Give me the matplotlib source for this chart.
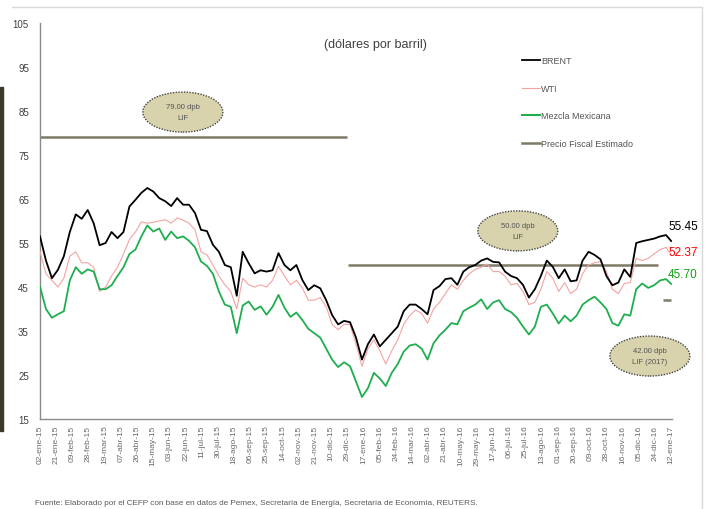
import matplotlib
matplotlib.use('Agg')
import matplotlib.pyplot as plt
import matplotlib.dates as mdates
from matplotlib.patches import Ellipse, Rectangle
from matplotlib.lines import Line2D
from matplotlib.ticker import FuncFormatter
import pandas as pd

plt.rcParams['font.family'] = ['Liberation Sans Narrow', 'Liberation Sans', 'DejaVu Sans']

# weekly readings (Friday) plus the last day shown
dates = pd.date_range('2015-01-02', '2017-01-06', freq='7D').append(pd.DatetimeIndex(['2017-01-12']))

brent = [56.5, 51.0, 47.0, 48.9, 52.0, 57.5, 61.5, 60.5, 62.5, 59.5,
         54.5, 55.0, 57.5, 56.1, 57.5, 63.3, 64.8, 66.4, 67.5, 66.7,
         65.2, 64.5, 63.4, 65.2, 63.7, 63.7, 61.8, 58.0, 57.7, 54.6,
         53.0, 50.0, 49.5, 43.0, 53.0, 50.4, 48.1, 48.8, 48.5, 48.8,
         52.7, 50.0, 48.8, 50.0, 46.6, 44.3, 45.4, 44.7, 42.0, 38.6,
         36.5, 37.3, 37.0, 33.5, 28.5, 32.0, 34.2, 31.5, 33.0, 34.5,
         36.0, 39.5, 41.0, 41.0, 40.0, 38.8, 44.3, 45.2, 46.8, 47.0,
         45.5, 48.5, 49.5, 50.0, 51.0, 51.5, 50.7, 50.6, 48.5, 47.5,
         47.0, 45.5, 42.6, 44.5, 47.5, 51.0, 49.6, 47.0, 49.0, 46.3,
         46.5, 51.0, 53.0, 52.3, 51.3, 47.5, 45.4, 46.0, 49.0, 47.3,
         55.0, 55.4, 55.7, 56.0, 56.5, 56.8, 55.45]

wti = [53.0, 48.0, 46.5, 45.0, 47.0, 52.0, 53.0, 50.5, 50.5, 49.5,
       44.0, 45.0, 47.5, 49.5, 52.5, 55.8, 57.5, 59.8, 59.5, 59.7,
       60.0, 60.3, 59.5, 60.7, 60.2, 59.5, 58.0, 53.0, 52.3, 50.0,
       47.5, 45.5, 44.0, 40.0, 47.0, 45.5, 45.0, 45.5, 45.0, 46.5,
       49.7, 47.5, 45.5, 46.5, 44.8, 42.0, 42.0, 42.6, 40.5, 36.5,
       35.3, 36.5, 36.5, 32.0, 27.0, 31.0, 33.0, 30.5, 27.5, 30.5,
       33.0, 36.5, 38.5, 39.8, 39.0, 36.8, 40.0, 41.5, 43.5, 45.5,
       44.5, 46.5, 48.0, 49.0, 49.5, 50.2, 48.5, 48.5, 47.5, 45.5,
       45.8, 44.0, 41.0, 41.5, 44.5, 48.5, 47.0, 44.0, 46.0, 43.5,
       44.5, 48.0, 50.0, 50.5, 50.8, 48.5, 44.5, 43.5, 45.8, 46.0,
       51.5, 51.0, 51.5, 52.5, 53.5, 54.0, 52.37]

mezcla = [45.1, 40.0, 38.0, 38.8, 39.5, 46.5, 49.5, 48.0, 49.0, 48.5,
          44.5, 44.5, 45.4, 47.5, 49.5, 52.5, 53.5, 56.5, 59.0, 57.6,
          58.3, 55.7, 57.6, 56.1, 56.5, 55.5, 54.0, 50.8, 49.8, 48.0,
          44.0, 41.0, 40.5, 34.5, 40.8, 41.7, 39.8, 40.6, 38.7, 40.5,
          43.2, 40.3, 38.2, 39.2, 37.5, 35.5, 34.5, 33.5, 31.0, 28.5,
          26.8, 27.9, 27.0, 23.5, 20.0, 22.0, 25.5, 24.2, 22.5, 25.5,
          27.5, 30.3, 31.7, 32.0, 31.0, 28.5, 32.2, 34.0, 35.3, 36.8,
          36.5, 39.5, 40.3, 41.0, 42.2, 40.0, 41.5, 42.0, 40.0, 39.3,
          38.0, 36.0, 34.2, 36.0, 40.5, 41.0, 39.0, 36.7, 38.5, 37.2,
          38.5, 41.0, 42.0, 42.8, 41.5, 40.0, 36.8, 36.2, 38.8, 38.5,
          44.5, 45.8, 44.8, 45.4, 46.5, 46.8, 45.7]

# precio fiscal estimado (LIF)
fiscal_start = pd.to_datetime(['2015-01-02', '2015-12-30', '2017-01-02'])
fiscal_end = pd.to_datetime(['2015-12-29', '2016-12-28', '2017-01-12'])
fiscal_val = [79, 50, 42]
fiscal_text = ['79.00 dpb\nLIF', '50.00 dpb\nLIF', '42.00 dpb\nLIF (2017)']

meses = ['ene', 'feb', 'mar', 'abr', 'may', 'jun', 'jul', 'ago', 'sep', 'oct', 'nov', 'dic']
ticks = pd.date_range('2015-01-02', periods=40, freq='19D')

fig = plt.figure(figsize=(7.06, 5.10), dpi=100)
ax = fig.add_axes([40/706, 90/510, 632/706, 396/510])

ax.plot(dates, wti, color='#f4a3a3', lw=0.8, zorder=3)
ax.plot(dates, mezcla, color='#1fae4f', lw=1.3, zorder=3)
ax.plot(dates, brent, color='black', lw=1.3, zorder=4)
ax.hlines(fiscal_val, fiscal_start, fiscal_end, color='#7d7b66', lw=1.8, zorder=2)

ax.set_ylim(15, 105)
ax.set_yticks(range(15, 106, 10))
ax.set_xlim(pd.Timestamp('2015-01-02'), pd.Timestamp('2017-01-13'))
ax.set_xticks(ticks)
ax.xaxis.set_major_formatter(FuncFormatter(
    lambda v, p: (lambda d: '%02d-%s-%s' % (d.day, meses[d.month - 1], d.strftime('%y')))(mdates.num2date(v))))
ax.tick_params(axis='x', labelrotation=90, labelsize=6, colors='#6a6a6a', length=0, pad=4)
ax.tick_params(axis='y', labelsize=7, colors='#404040', length=0, pad=8)
for s in ['top', 'right']:
    ax.spines[s].set_visible(False)
for s in ['left', 'bottom']:
    ax.spines[s].set_color('#8a8a8a')
    ax.spines[s].set_linewidth(1)

# ellipses with the LIF prices
ell_pos = [(0.226, 0.775), (0.756, 0.475), (0.965, 0.159)]
for (ex, ey), txt in zip(ell_pos, fiscal_text):
    ax.add_patch(Ellipse((ex, ey), 80/632, 40/396, transform=ax.transAxes,
                         facecolor='#d8d2ad', edgecolor='#444444', ls=(0, (1, 1)),
                         lw=1.0, clip_on=False, zorder=5))
    ax.text(ex, ey, txt, transform=ax.transAxes, ha='center', va='center',
            fontsize=5.5, color='#555555', linespacing=1.8, zorder=6)

# last values
trans = ax.get_yaxis_transform()
ax.text(1.041, brent[-1] + 3.4, '%.2f' % brent[-1], transform=trans, ha='right', va='center',
        fontsize=8.5, color='black', clip_on=False)
ax.text(1.041, wti[-1] + 0.6, '%.2f' % wti[-1], transform=trans, ha='right', va='center',
        fontsize=8.5, color='#ff0000', clip_on=False)
ax.text(1.041, mezcla[-1] + 2.3, '%.2f' % mezcla[-1], transform=trans, ha='right', va='center',
        fontsize=8.5, color='#12a012', clip_on=False)

handles = [Line2D([], [], color='black', lw=1.3),
           Line2D([], [], color='#f4a3a3', lw=0.8),
           Line2D([], [], color='#1fae4f', lw=1.5),
           Line2D([], [], color='#7d7b66', lw=1.8)]
labels = ['BRENT', 'WTI', 'Mezcla Mexicana', 'Precio Fiscal Estimado']
ax.legend(handles, labels, loc='upper left', bbox_to_anchor=(0.757, 0.925), frameon=False,
          fontsize=6.5, handlelength=2.0, handletextpad=0.1, labelspacing=2.05,
          labelcolor='#555555', borderaxespad=0)

fig.text(375/706, 1 - 45/510, '(dólares por barril)', ha='center', va='center',
         fontsize=9, color='#404040')
fig.text(35/706, 6/510, 'Fuente: Elaborado por el CEFP con base en datos de Pemex, Secretaría de Energía, '
         'Secretaría de Economía, REUTERS.', ha='left', va='center', fontsize=5.9, color='#595959')

# frame of the original slide
fig.add_artist(Line2D([12/706, 702/706], [1 - 8/510, 1 - 8/510], color='#dadada', lw=1))
fig.add_artist(Line2D([702/706, 702/706], [0, 1 - 8/510], color='#dadada', lw=1))
fig.add_artist(Rectangle((0, 1 - 432/510), 3/706, 344/510, color='#3b3826'))

fig.savefig('out.png', dpi=100)
